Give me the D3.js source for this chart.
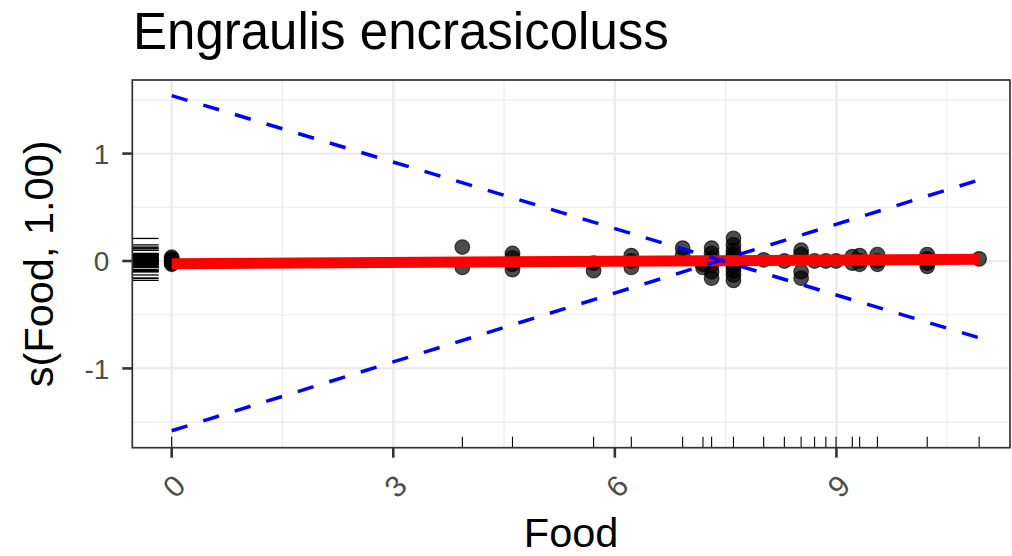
<!DOCTYPE html>
<html>
<head>
<meta charset="utf-8">
<script src="https://cdn.jsdelivr.net/npm/d3@7"></script>
<style>
  body { margin: 0; background: #fff; }
  svg { display: block; }
  text { font-family: "Liberation Sans", Arial, Helvetica, sans-serif; }
</style>
</head>
<body>
<svg id="chart" width="1012" height="556"></svg>
<script>
// ---- data ----
const title = "Engraulis encrasicoluss";
const xLabel = "Food";
const yLabel = "s(Food, 1.00)";
const xTicks = [0, 3, 6, 9];
const yTicks = [-1, 0, 1];
const xMinorTicks = [1.5, 4.5, 7.5, 10.5];
const yMinorTicks = [-1.5, -0.5, 0.5, 1.5];

// partial residuals (Food value, residual)
const pointFood = [
  0, 0, 0, 0, 0, 0, 0,
  3.935, 3.935,
  4.614, 4.614, 4.614, 4.614,
  5.712, 5.712,
  6.223, 6.223, 6.223,
  6.918, 6.918,
  7.193, 7.193,
  7.31, 7.31, 7.31, 7.31, 7.31, 7.31,
  7.606, 7.606, 7.606, 7.606, 7.606, 7.606, 7.606, 7.606, 7.606, 7.606, 7.606,
  8.015, 8.295,
  8.522, 8.522, 8.522, 8.522,
  8.704, 8.857, 8.995,
  9.215, 9.215,
  9.314, 9.314, 9.314,
  9.555, 9.555, 9.555,
  10.229, 10.229, 10.229, 10.229,
  10.932
];
const pointResid = [
  0.035, 0.02, 0.01, 0.0, -0.01, -0.02, -0.03,
  0.13, -0.06,
  0.07, 0.03, -0.03, -0.08,
  -0.02, -0.09,
  0.05, 0.0, -0.06,
  0.12, 0.05,
  -0.03, -0.06,
  0.12, 0.07, 0.02, -0.04, -0.1, -0.16,
  0.21, 0.15, 0.1, 0.06, 0.03, 0.0, -0.02, -0.05, -0.09, -0.13, -0.18,
  0.01, 0.0,
  0.1, 0.06, -0.1, -0.16,
  0.0, 0.0, 0.0,
  0.04, -0.02,
  0.05, 0.0, -0.03,
  0.06, 0.0, -0.03,
  0.06, 0.02, -0.02, -0.05,
  0.02
];

// fitted smooth and its confidence band (linear, edf = 1)
const fitFood = [0, 10.932];
const fitValue = [-0.025, 0.016];
const ciUpper = [1.54, -0.715];
const ciLower = [-1.58, 0.755];

const xDomain = [-0.5334, 11.35];
const yDomain = [-1.738, 1.685];

// ---- layout ----
const svg = d3.select("#chart");
const panel = { left: 132.3, right: 1010, top: 80, bottom: 447.7 };
const pw = panel.right - panel.left;
const ph = panel.bottom - panel.top;

const x = d3.scaleLinear().domain(xDomain).range([panel.left, panel.right]);
const y = d3.scaleLinear().domain(yDomain).range([panel.bottom, panel.top]);

const gridColor = "#EBEBEB";
const inkColor = "#333333";

// ---- grid ----
const grid = svg.append("g");
grid.selectAll(".ymin").data(yMinorTicks).join("line")
  .attr("x1", panel.left).attr("x2", panel.right)
  .attr("y1", d => y(d)).attr("y2", d => y(d))
  .attr("stroke", gridColor).attr("stroke-width", 1.1);
grid.selectAll(".xmin").data(xMinorTicks).join("line")
  .attr("y1", panel.top).attr("y2", panel.bottom)
  .attr("x1", d => x(d)).attr("x2", d => x(d))
  .attr("stroke", gridColor).attr("stroke-width", 1.1);
grid.selectAll(".ymaj").data(yTicks).join("line")
  .attr("x1", panel.left).attr("x2", panel.right)
  .attr("y1", d => y(d)).attr("y2", d => y(d))
  .attr("stroke", gridColor).attr("stroke-width", 2.2);
grid.selectAll(".xmaj").data(xTicks).join("line")
  .attr("y1", panel.top).attr("y2", panel.bottom)
  .attr("x1", d => x(d)).attr("x2", d => x(d))
  .attr("stroke", gridColor).attr("stroke-width", 2.2);

// ---- rugs ----
const rugLenX = 0.03 * ph;
const rugLenY = 0.03 * pw;
const rugFood = Array.from(new Set(pointFood));
svg.append("g").selectAll("line").data(rugFood).join("line")
  .attr("x1", d => x(d)).attr("x2", d => x(d))
  .attr("y1", panel.bottom).attr("y2", panel.bottom - rugLenX)
  .attr("stroke", "#000").attr("stroke-width", 1.1);
svg.append("g").selectAll("line").data(pointResid).join("line")
  .attr("x1", panel.left).attr("x2", panel.left + rugLenY)
  .attr("y1", d => y(d)).attr("y2", d => y(d))
  .attr("stroke", "#000").attr("stroke-width", 1.3);

// ---- residual points ----
svg.append("g").selectAll("circle").data(pointFood.map((f, i) => [f, pointResid[i]]))
  .join("circle")
  .attr("cx", d => x(d[0])).attr("cy", d => y(d[1]))
  .attr("r", 7.3)
  .attr("fill", "#000").attr("fill-opacity", 0.7)
  .attr("stroke", "#000").attr("stroke-opacity", 0.7).attr("stroke-width", 1.2);

// ---- fitted smooth ----
const line = d3.line().x(d => x(d[0])).y(d => y(d[1]));
svg.append("path")
  .attr("d", line(fitFood.map((f, i) => [f, fitValue[i]])))
  .attr("fill", "none").attr("stroke", "#FF0000").attr("stroke-width", 11)
  .attr("stroke-linecap", "butt");

// ---- confidence band ----
[ciUpper, ciLower].forEach(band => {
  svg.append("path")
    .attr("d", line(fitFood.map((f, i) => [f, band[i]])))
    .attr("fill", "none").attr("stroke", "#0000FF").attr("stroke-width", 3.5)
    .attr("stroke-dasharray", "16.5,16.5").attr("stroke-linecap", "butt");
});

// ---- panel border ----
svg.append("rect")
  .attr("x", panel.left).attr("y", panel.top)
  .attr("width", pw).attr("height", ph)
  .attr("fill", "none").attr("stroke", inkColor).attr("stroke-width", 1.7);

// ---- axes ----
const tickLen = 10;
const yAxis = svg.append("g");
yAxis.selectAll("line").data(yTicks).join("line")
  .attr("x1", panel.left - tickLen).attr("x2", panel.left)
  .attr("y1", d => y(d)).attr("y2", d => y(d))
  .attr("stroke", inkColor).attr("stroke-width", 2.6);
yAxis.selectAll("text").data(yTicks).join("text")
  .attr("x", panel.left - tickLen - 13)
  .attr("y", d => y(d))
  .attr("dy", "0.36em")
  .attr("text-anchor", "end")
  .attr("font-size", 28).attr("fill", "#4D4D4D")
  .text(d => d);

const xAxis = svg.append("g");
xAxis.selectAll("line").data(xTicks).join("line")
  .attr("x1", d => x(d)).attr("x2", d => x(d))
  .attr("y1", panel.bottom).attr("y2", panel.bottom + tickLen)
  .attr("stroke", inkColor).attr("stroke-width", 2.6);
xAxis.selectAll("text").data(xTicks).join("text")
  .attr("transform", d => `translate(${x(d) + 2},486) rotate(-45)`)
  .attr("dy", "0.36em")
  .attr("text-anchor", "middle")
  .attr("font-size", 30).attr("fill", "#4D4D4D")
  .text(d => d);

// ---- titles ----
svg.append("text")
  .attr("x", 133).attr("y", 49)
  .attr("font-size", 51).attr("fill", "#000")
  .text(title);

svg.append("text")
  .attr("x", (panel.left + panel.right) / 2).attr("y", 547)
  .attr("text-anchor", "middle")
  .attr("font-size", 41.5).attr("fill", "#000")
  .text(xLabel);

svg.append("text")
  .attr("transform", `translate(53,${(panel.top + panel.bottom) / 2}) rotate(-90)`)
  .attr("text-anchor", "middle")
  .attr("font-size", 41.5).attr("fill", "#000")
  .text(yLabel);
</script>
</body>
</html>
